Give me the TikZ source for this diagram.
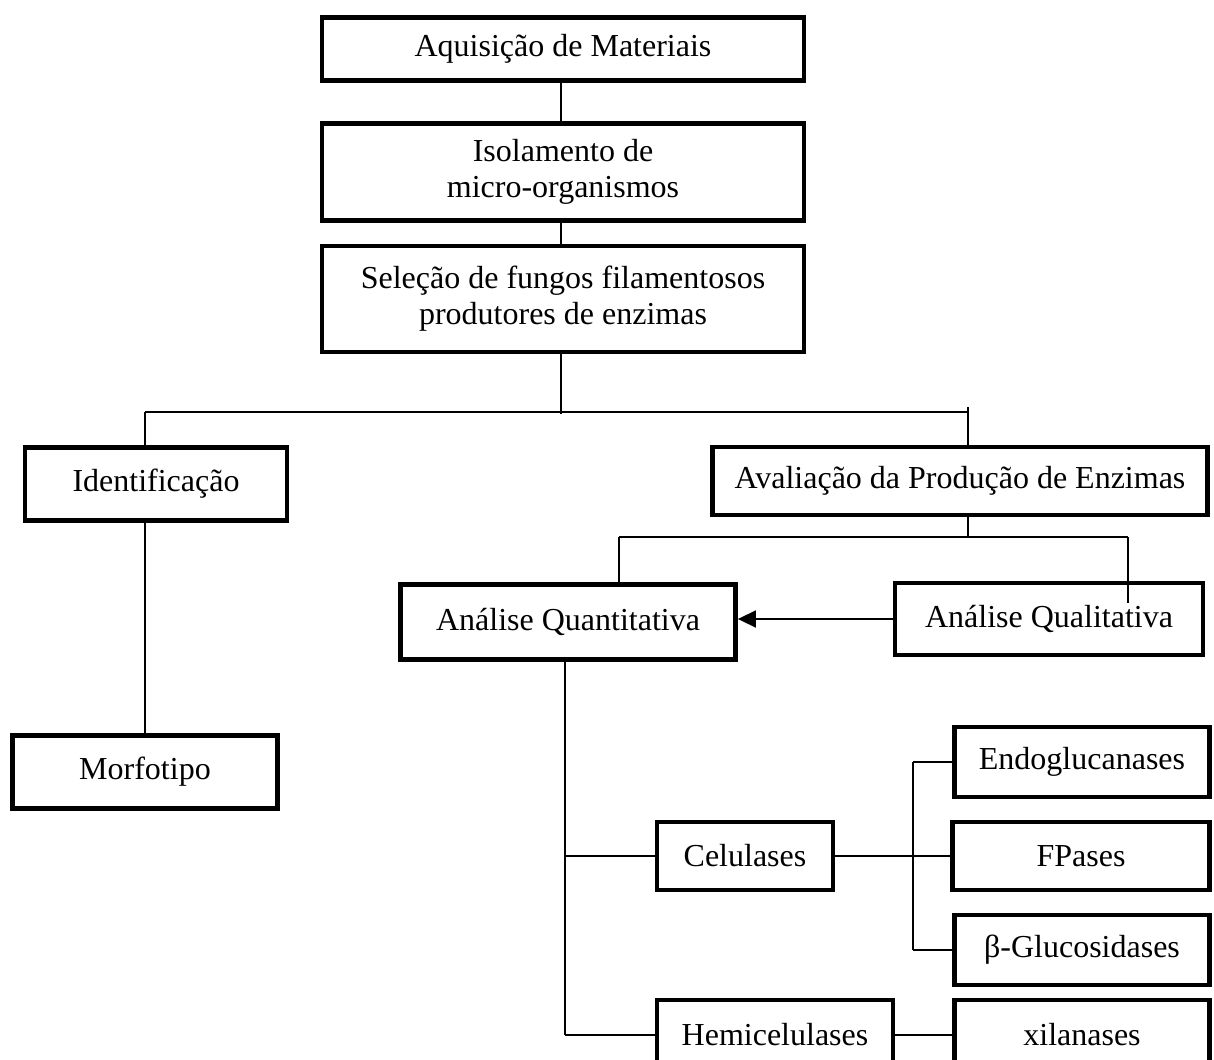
\documentclass[tikz,border=0pt]{standalone}
\usepackage{fontspec}
\setmainfont{Liberation Serif}
\usetikzlibrary{arrows.meta}
\tikzset{
  etapa/.style={draw, line width=2.4pt, align=center, inner sep=2pt,
    font=\fontsize{16}{18}\selectfont},
  ligacao/.style={line width=0.8pt}
}
\begin{document}
\begin{tikzpicture}[x=0.5pt,y=-0.5pt]
  \useasboundingbox (0,0) rectangle (1214,1059);
  \clip (0,0) rectangle (1214,1059);
  % etapas
  \node[etapa, minimum width=241pt, minimum height=31.5pt] (aquis) at (563,49) {Aquisição de Materiais};
  \node[etapa, minimum width=241pt, minimum height=48.5pt] (isol) at (563,172) {Isolamento de\\micro-organismos};
  \node[etapa, minimum width=241pt, minimum height=53pt] (selec) at (563,299) {Seleção de fungos filamentosos\\produtores de enzimas};
  \node[etapa, minimum width=131pt, minimum height=36.5pt] (ident) at (156,484) {Identificação};
  \node[etapa, minimum width=132.5pt, minimum height=36.5pt] (morfo) at (145,772) {Morfotipo};
  \node[etapa, minimum width=247.5pt, minimum height=34pt] (aval) at (960,481) {Avaliação da Produção de Enzimas};
  \node[etapa, minimum width=167.5pt, minimum height=37.5pt] (quant) at (568,622) {Análise Quantitativa};
  \node[etapa, minimum width=154pt, minimum height=36pt] (qual) at (1049,619) {Análise Qualitativa};
  \node[etapa, minimum width=88pt, minimum height=34pt] (celul) at (745,856) {Celulases};
  \node[etapa, minimum width=127.5pt, minimum height=35pt] (endo) at (1082,762) {Endoglucanases};
  \node[etapa, minimum width=128.5pt, minimum height=34pt] (fpas) at (1081,856) {FPases};
  \node[etapa, minimum width=127.5pt, minimum height=35pt] (beta) at (1082,950) {β-Glucosidases};
  \node[etapa, minimum width=118pt, minimum height=35pt] (hemi) at (775,1035) {Hemicelulases};
  \node[etapa, minimum width=127.5pt, minimum height=35pt] (xila) at (1082,1035) {xilanases};
  % pontos de ramificacao
  \coordinate (ramo) at (561,414);
  \coordinate (ramoE) at (145,412);
  \coordinate (ramoD) at (968,412);
  \coordinate (avalE) at (619,537);
  \coordinate (avalD) at (1128,537);
  \coordinate (quantB) at (565,1035);
  \coordinate (celB) at (913,762);
  \coordinate (celC) at (913,950);
  \begin{scope}[ligacao]
    \draw (aquis.south -| ramo) to (isol.north -| ramo);
    \draw (isol.south -| ramo) to (selec.north -| ramo);
    \draw (selec.south -| ramo) to (ramo);
    \draw (ramoE) to (ramoD);
    \draw (ramoE) to (ramoE |- ident.north);
    \draw (ramoE |- ident.south) to (ramoE |- morfo.north);
    \draw ([yshift=2.5pt]ramoD) to (ramoD |- aval.north);
    \draw (aval.south -| ramoD) to (ramoD |- avalE);
    \draw (avalE) to (avalD);
    \draw (avalE) to (avalE |- quant.north);
    \draw (avalD) to ([yshift=-11pt]avalD |- qual.north);
    \draw[-{Triangle[length=9pt,width=8.5pt]}] (qual.west) to (qual.west -| quant.east);
    \draw (quantB |- quant.south) to (quantB);
    \draw (quantB |- celul.west) to (celul.west);
    \draw (quantB) to (hemi.west);
    \draw (celul.east) to (fpas.west);
    \draw (celB) to (celC);
    \draw (celB) to (endo.west);
    \draw (celC) to (beta.west);
    \draw (hemi.east) to (xila.west);
  \end{scope}
\end{tikzpicture}
\end{document}
